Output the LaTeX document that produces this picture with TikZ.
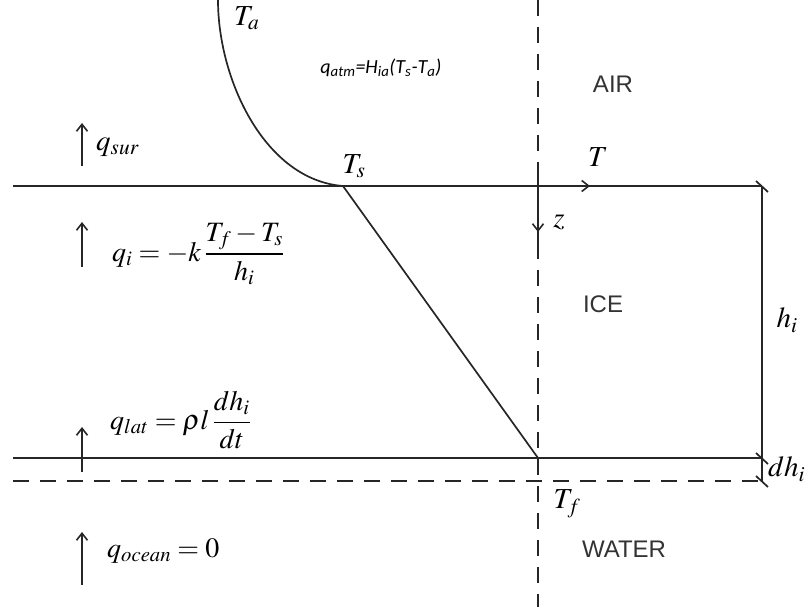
\documentclass[tikz,border=0pt]{standalone}
\usepackage{amsmath}
\usepackage[no-math]{fontspec}
\usepackage{mathptmx}
\usetikzlibrary{arrows.meta}
\newfontfamily\labsans{Liberation Sans}
\newfontfamily\calfont{Carlito}
\begin{document}
\begin{tikzpicture}[x=1pt,y=-1pt,
  ln/.style={line width=1.7pt, draw=black!85},
  dsh/.style={ln, dash pattern=on 16pt off 11pt},
  tip/.style={-{Straight Barb[length=7pt,width=11pt,line width=1.6pt]}},
  mlab/.style={inner sep=0pt, font=\fontsize{29}{33}\selectfont},
  flab/.style={inner sep=0pt, font=\fontsize{28}{32}\selectfont},
  slab/.style={inner sep=0pt, font=\fontsize{24}{28}\selectfont\labsans, text=black!80},
  tick/.style={ln}]
\useasboundingbox (0,0) rectangle (807,607);
% coordinates
\coordinate (TL) at (13,186);
\coordinate (TR) at (762,186);
\coordinate (BL) at (13,458);
\coordinate (BR) at (762,458);
\coordinate (DL) at (13,481);
\coordinate (DR) at (762,481);
\coordinate (Vtop) at (538,0);
\coordinate (Vbot) at (538,607);
\coordinate (Ta0) at (218,0);
\coordinate (Ts0) at (343,186);
\coordinate (Tf0) at (538,458);
\coordinate (Tarr) at (590,186);
\coordinate (z0) at (538,170);
\coordinate (z1) at (538,232);
\coordinate (z2) at (538,252);
% lines
\draw[dsh] (Vtop) -- (Vbot);
\draw[ln] (TL) -- (TR);
\draw[ln,tip] (TL) -- (Tarr);
\draw[ln] (BL) -- (BR);
\draw[dsh] (DL) -- (DR);
\draw[ln] (TR) -- (DR);
\foreach \p in {TR,BR,DR}{
  \draw[tick] ([shift={(-6,-5)}]\p) -- ([shift={(6,6)}]\p);
}
\draw[ln] (Ta0) .. controls (218,80) and (265,180) .. (Ts0);
\draw[ln] (Ts0) -- (Tf0);
\draw[ln,tip] (z0) -- (z1);
\draw[ln] (z1) -- (z2);
% flux arrows
\coordinate (a1s) at (82,166); \coordinate (a1e) at (82,123);
\coordinate (a2s) at (82,267); \coordinate (a2e) at (82,222);
\coordinate (a3s) at (82,472); \coordinate (a3e) at (82,427);
\coordinate (a4s) at (82,585); \coordinate (a4e) at (82,532);
\draw[ln,tip] (a1s) -- (a1e);
\draw[ln,tip] (a2s) -- (a2e);
\draw[ln,tip] (a3s) -- (a3e);
\draw[ln,tip] (a4s) -- (a4e);
% labels
\node[mlab, anchor=north west] (Ta) at (234,6) {$T_a$};
\node[inner sep=0pt, font=\fontsize{20}{22}\selectfont\calfont\itshape] (qatm) at (381,68)
  {q\textsubscript{atm}=H\textsubscript{ia}(T\textsubscript{s}-T\textsubscript{a})};
\node[slab] (air) at (613,84) {AIR};
\node[mlab, anchor=west] (qsur) at (96,147) {$q_{sur}$};
\node[mlab] (Ts) at (354,166) {$T_s$};
\node[mlab] (T) at (598,157) {$T$};
\node[mlab] (z) at (559,222) {$z$};
\node[flab, anchor=west] (qi) at (112,254) {$q_i=-k\,\dfrac{T_f-T_s}{h_i}$};
\node[slab] (ice) at (603,304) {ICE};
\node[mlab] (hi) at (787,320) {$h_i$};
\node[flab, anchor=west] (qlat) at (110,420) {$q_{lat}=\rho l\,\dfrac{dh_i}{dt}$};
\node[mlab, anchor=west] (dhi) at (768,469) {$dh_i$};
\node[mlab] (Tf) at (567,504) {$T_f$};
\node[slab] (water) at (624,549) {WATER};
\node[flab, anchor=west] (qoc) at (107,551) {$q_{ocean}=0$};
\end{tikzpicture}
\end{document}
